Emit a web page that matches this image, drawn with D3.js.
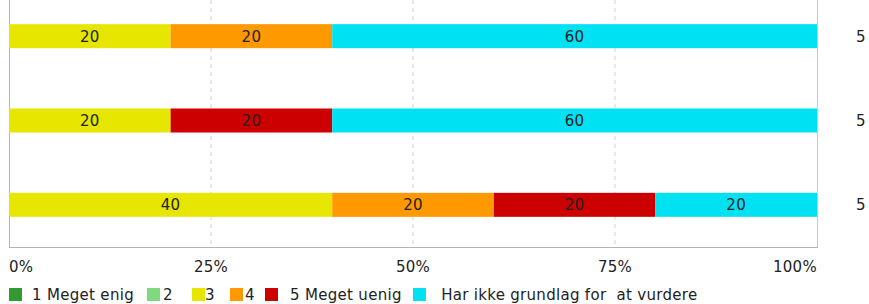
<!DOCTYPE html>
<html>
<head>
<meta charset="utf-8">
<script src="https://cdn.jsdelivr.net/npm/d3@7"></script>
<style>
  body { margin: 0; background: #fff; }
  svg { display: block; font-family: "DejaVu Sans", Verdana, sans-serif; }
  text { white-space: pre; letter-spacing: 0.3px; }
</style>
</head>
<body>
<div id="chart"></div>
<script>
// data
var categories = [" 1 Meget enig", "2", "3", "4", " 5 Meget uenig", "  Har ikke grundlag for  at vurdere"];
var colors = ["#339933", "#80d980", "#e6e600", "#ff9900", "#cc0000", "#00e1f2"];
var rows = ["r1", "r2", "r3"];
var values = [
    [0, 0, 20, 20, 0, 60],
    [0, 0, 20, 0, 20, 60],
    [0, 0, 40, 20, 20, 20]
];
var counts = [5, 5, 5];
var ticks = [0, 25, 50, 75, 100];

// layout
var W = 869, H = 304;
var plotLeft = 9, plotRight = 817, plotTop = -6, plotBottom = 247;
var barH = 24;
var fontSize = 15;
// legend item positions (square x, text x)
var legendSq = [9, 147, 192, 230, 265, 413];
var legendTx = [27, 163, 205, 245, 285, 431];

var svg = d3.select("#chart").append("svg").attr("width", W).attr("height", H);

var x = d3.scaleLinear().domain([0, 100]).range([plotLeft, plotRight]);
var y = d3.scalePoint().domain(rows).range([plotTop, plotBottom]).padding(0.5);

// gridlines
svg.selectAll(".grid").data(ticks.slice(1, 4)).enter().append("line")
    .attr("x1", function (d) { return x(d); })
    .attr("x2", function (d) { return x(d); })
    .attr("y1", 0).attr("y2", plotBottom)
    .attr("stroke", "#d0d0d0").attr("stroke-dasharray", "4,4");

// frame
svg.append("line").attr("x1", plotLeft + 0.5).attr("x2", plotLeft + 0.5).attr("y1", 0).attr("y2", plotBottom + 0.5).attr("stroke", "#b4b4b4");
svg.append("line").attr("x1", plotRight + 0.5).attr("x2", plotRight + 0.5).attr("y1", 0).attr("y2", plotBottom + 0.5).attr("stroke", "#c8c8c8");
svg.append("line").attr("x1", plotLeft).attr("x2", plotRight + 1).attr("y1", plotBottom + 0.5).attr("y2", plotBottom + 0.5).attr("stroke", "#b4b4b4");

// stacked bars
var stack = d3.stack().keys(d3.range(categories.length))(values);

var layers = svg.selectAll(".layer").data(stack).enter().append("g")
    .attr("fill", function (d, i) { return colors[i]; });

layers.selectAll("rect").data(function (d) { return d.filter(function (s) { return s[1] > s[0]; }); }).enter().append("rect")
    .attr("x", function (d) { return x(d[0]); })
    .attr("width", function (d) { return x(d[1]) - x(d[0]); })
    .attr("y", function (d) { return y(rows[values.indexOf(d.data)]) - barH / 2; })
    .attr("height", barH);

layers.selectAll(".lbl").data(function (d) { return d.filter(function (s) { return s[1] > s[0]; }); }).enter().append("text")
    .attr("x", function (d) { return (x(d[0]) + x(d[1])) / 2; })
    .attr("y", function (d) { return y(rows[values.indexOf(d.data)]); })
    .attr("dy", "0.36em")
    .attr("text-anchor", "middle")
    .attr("fill", "#222")
    .style("font-size", fontSize + "px")
    .text(function (d) { return d[1] - d[0]; });

// counts on the right
svg.selectAll(".cnt").data(counts).enter().append("text")
    .attr("x", 856)
    .attr("y", function (d, i) { return y(rows[i]); })
    .attr("dy", "0.36em")
    .attr("fill", "#222")
    .style("font-size", fontSize + "px")
    .text(function (d) { return d; });

// x tick labels
svg.selectAll(".tick").data(ticks).enter().append("text")
    .attr("x", function (d) { return x(d); })
    .attr("y", 272)
    .attr("text-anchor", function (d, i) { return i === 0 ? "start" : (i === ticks.length - 1 ? "end" : "middle"); })
    .attr("fill", "#222")
    .style("font-size", fontSize + "px")
    .text(function (d) { return d + "%"; });

// legend
var lg = svg.selectAll(".lg").data(categories).enter().append("g");
lg.append("rect")
    .attr("x", function (d, i) { return legendSq[i]; })
    .attr("y", 288).attr("width", 13).attr("height", 13)
    .attr("fill", function (d, i) { return colors[i]; });
lg.append("text")
    .attr("x", function (d, i) { return legendTx[i]; })
    .attr("y", 300)
    .attr("fill", "#222")
    .style("font-size", fontSize + "px")
    .text(function (d) { return d; });
</script>
</body>
</html>
